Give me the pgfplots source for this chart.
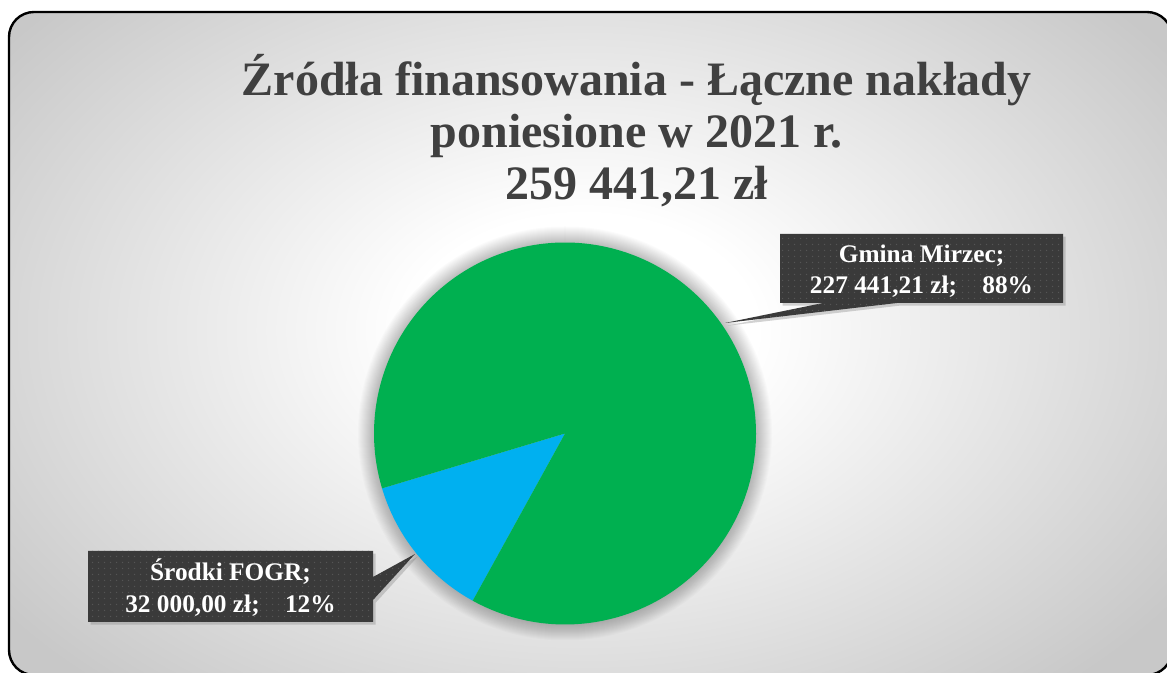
\documentclass[border=0pt]{standalone}
\usepackage{fontspec}
\setmainfont{Liberation Serif}
\usepackage{pgfplots}
\pgfplotsset{compat=1.18}
\usepackage{pgfplotstable}
\usetikzlibrary{shadows,patterns.meta}
\definecolor{piegreen}{HTML}{00B050}
\definecolor{pieblue}{HTML}{00B0F0}
\definecolor{titlegray}{HTML}{404040}
\definecolor{boxgray}{HTML}{3A3A3A}
\definecolor{dotgray}{HTML}{555555}
\definecolor{bggray}{HTML}{C8C8C8}
\pgfdeclareradialshading{bgshade}{\pgfpoint{0bp}{0bp}}{color(0bp)=(white); color(6bp)=(white); color(25bp)=(bggray); color(50bp)=(bggray)}
\tikzdeclarepattern{
  name=cdots,
  type=uncolored,
  bottom left={(0pt,0pt)},
  top right={(4.5pt,4.5pt)},
  tile size={(4.5pt,4.5pt)},
  code={\pgfpathcircle{\pgfpoint{2.25pt}{2.25pt}}{0.6pt}\pgfusepath{fill}}
}

\pgfplotstableread{
label value
Gmina 227441.21
FOGR 32000.00
}\financedata

\begin{document}
\pgfplotstablegetelem{0}{value}\of\financedata \edef\valA{\pgfplotsretval}%
\pgfplotstablegetelem{1}{value}\of\financedata \edef\valB{\pgfplotsretval}%
\edef\angB{\fpeval{360*\valB/(\valA+\valB)}}%
\def\bStart{196.7}%
\edef\bEnd{\fpeval{\bStart+\angB}}%
\edef\gEnd{\fpeval{\bStart+360}}%
\begin{tikzpicture}
\begin{scope}[x=0.75pt,y=-0.75pt,yshift=504.75pt]
  \begin{scope}
    \clip[rounded corners=18.75pt] (9,12) rectangle (1172,675);
    \fill[bggray] (0,0) rectangle (1180,680);
    \shade[shading=bgshade] (583,330) ellipse (720 and 480);
    \foreach \k in {1,...,16} {\fill[black, opacity=0.014] (565,433.5) circle (191+\k);}
  \end{scope}
  \draw[line width=1.8pt, rounded corners=18.75pt] (9,12) rectangle (1172,675);
\end{scope}

\begin{axis}[at={(0,0)}, anchor=south west, scale only axis,
  width=875.25pt, height=504.75pt,
  xmin=0, xmax=1167, ymin=0, ymax=673, hide axis, clip=false]
  \addplot[fill=pieblue, draw=none, domain=\bStart:\bEnd, samples=80, variable=\t]
    ({565+191*cos(\t)}, {239.5+191*sin(\t)}) -- (axis cs:565,239.5) -- cycle;
  \addplot[fill=piegreen, draw=none, domain=\bEnd:\gEnd, samples=360, variable=\t]
    ({565+191*cos(\t)}, {239.5+191*sin(\t)}) -- (axis cs:565,239.5) -- cycle;
\end{axis}

\begin{scope}[x=0.75pt,y=-0.75pt,yshift=504.75pt]
  % title
  \begin{scope}[every node/.style={anchor=base, inner sep=0pt, text=titlegray,
      font=\fontsize{36pt}{43pt}\selectfont\bfseries}]
    \node at (636.5,96) {Źródła finansowania - Łączne nakłady};
    \node at (636.5,148) {poniesione w 2021 r.};
    \node at (636.5,200) {259 441,21 zł};
  \end{scope}
  % callout Gmina
  \fill[boxgray, drop shadow={shadow xshift=2pt, shadow yshift=-2pt, opacity=0.35}]
    (780,234) -- (1063,234) -- (1063,303) -- (897,303) -- (725,323) -- (823,303) -- (780,303) -- cycle;
  \fill[pattern={cdots}, pattern color=dotgray]
    (780,234) -- (1063,234) -- (1063,303) -- (897,303) -- (725,323) -- (823,303) -- (780,303) -- cycle;
  % callout Srodki
  \fill[boxgray, drop shadow={shadow xshift=2pt, shadow yshift=-2pt, opacity=0.35}]
    (88,551) -- (373,551) -- (373,577) -- (415,554) -- (373,600) -- (373,622) -- (88,622) -- cycle;
  \fill[pattern={cdots}, pattern color=dotgray]
    (88,551) -- (373,551) -- (373,577) -- (415,554) -- (373,600) -- (373,622) -- (88,622) -- cycle;
  \begin{scope}[every node/.style={anchor=base, inner sep=0pt, text=white,
      font=\fontsize{19pt}{22.5pt}\selectfont\bfseries}]
    \node at (921.5,263) {Gmina Mirzec;};
    \node at (921.5,294) {227 441,21 zł;\hspace{19pt}88\%};
    \node at (230.5,581) {Środki FOGR;};
    \node at (230.5,613) {32 000,00 zł;\hspace{19pt}12\%};
  \end{scope}
\end{scope}
\pgfresetboundingbox
\useasboundingbox (0,0) rectangle (875.25pt,504.75pt);
\end{tikzpicture}
\end{document}
